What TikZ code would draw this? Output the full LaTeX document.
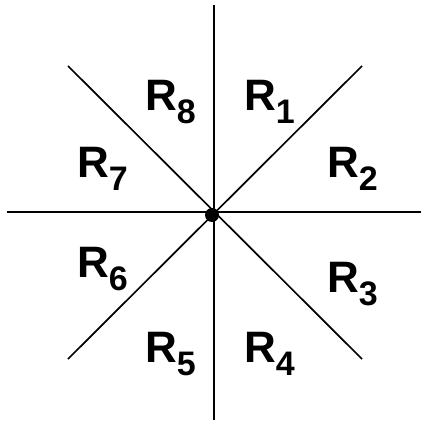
\documentclass[tikz,border=0pt]{standalone}
\usepackage{fontspec}
\setmainfont{Liberation Sans}
\newcommand{\reg}[1]{\textbf{\fontsize{44}{44}\selectfont R\raisebox{-13pt}{\fontsize{34}{34}\selectfont #1}}}
\begin{document}
\begin{tikzpicture}[x=1pt,y=-1pt,
  axisline/.style={line width=1.7pt, black},
  lab/.style={anchor=base west, inner sep=0pt, outer sep=0pt}]
\useasboundingbox (0,0) rectangle (422,422);
\fill[white] (0,0) rectangle (422,422);
\coordinate (vt) at (214,5);
\coordinate (vb) at (214,420);
\coordinate (hl) at (7,212);
\coordinate (hr) at (421,212);
\coordinate (d1a) at (68,66);
\coordinate (d1b) at (362,359);
\coordinate (d2a) at (362,66);
\coordinate (d2b) at (68,359);
\draw[axisline] (vt) -- (vb);
\draw[axisline] (hl) -- (hr);
\draw[axisline] (d1a) -- (d1b);
\draw[axisline] (d2a) -- (d2b);
\node[circle, fill=black, minimum size=14pt, inner sep=0pt] (o) at (212,215) {};
\node[lab] (r8) at (145,111) {\reg{8}};
\node[lab] (r1) at (244,111) {\reg{1}};
\node[lab] (r7) at (77,177) {\reg{7}};
\node[lab] (r2) at (327,177) {\reg{2}};
\node[lab] (r6) at (77,277) {\reg{6}};
\node[lab] (r3) at (327,292) {\reg{3}};
\node[lab] (r5) at (145,362) {\reg{5}};
\node[lab] (r4) at (244,362) {\reg{4}};
\end{tikzpicture}
\end{document}
